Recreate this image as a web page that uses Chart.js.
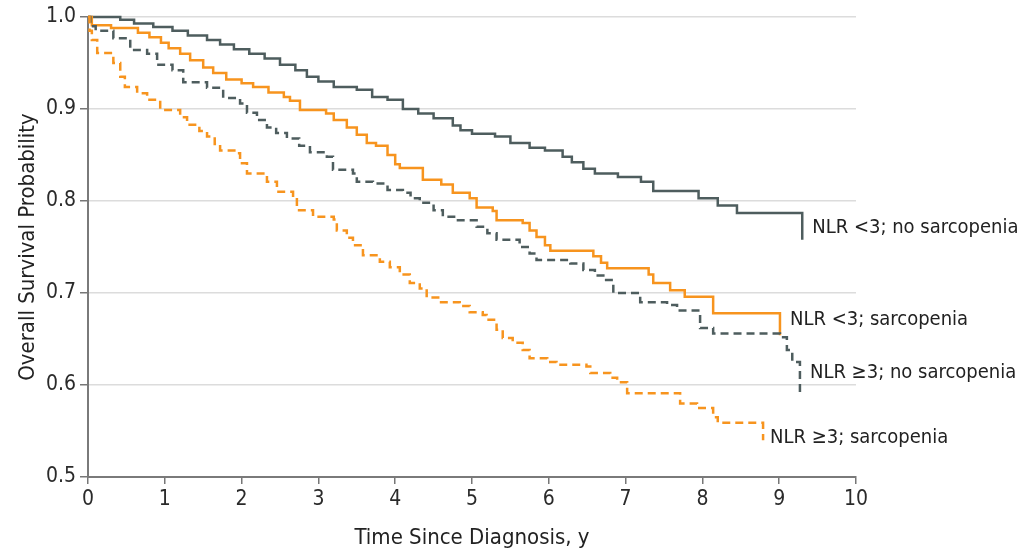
<!DOCTYPE html>
<html>
<head>
<meta charset="utf-8">
<script src="https://cdn.jsdelivr.net/npm/chart.js@4/dist/chart.umd.min.js"></script>
<style>
  html, body { margin: 0; padding: 0; background: #fff; }
  #wrap { width: 1019px; height: 551px; }
</style>
</head>
<body>
<div id="wrap"><canvas id="kmChart" width="1019" height="551"></canvas></div>
<script>
// Kaplan-Meier estimates (time in years, survival probability)
const lowNoSarcTime = [0, 0.42, 0.6, 0.85, 1.1, 1.3, 1.55, 1.72, 1.9, 2.1, 2.3, 2.5, 2.7, 2.85, 3.0, 3.2, 3.5, 3.7, 3.9, 4.1, 4.3, 4.5, 4.75, 4.85, 5.0, 5.3, 5.5, 5.75, 5.95, 6.18, 6.3, 6.45, 6.6, 6.9, 7.2, 7.36, 7.95, 8.2, 8.45, 9.3, 9.3];
const lowNoSarcSurv = [1.0, 0.997, 0.993, 0.989, 0.985, 0.98, 0.975, 0.97, 0.965, 0.96, 0.955, 0.948, 0.942, 0.935, 0.93, 0.924, 0.921, 0.913, 0.91, 0.9, 0.895, 0.89, 0.882, 0.877, 0.873, 0.87, 0.863, 0.858, 0.855, 0.848, 0.842, 0.835, 0.83, 0.826, 0.821, 0.811, 0.803, 0.795, 0.787, 0.787, 0.758];

const lowSarcTime = [0, 0.05, 0.3, 0.65, 0.8, 0.95, 1.05, 1.2, 1.33, 1.5, 1.63, 1.8, 2.0, 2.15, 2.35, 2.55, 2.63, 2.76, 3.1, 3.2, 3.37, 3.5, 3.63, 3.75, 3.9, 4.0, 4.06, 4.36, 4.6, 4.75, 4.97, 5.06, 5.27, 5.32, 5.66, 5.75, 5.84, 5.95, 6.02, 6.58, 6.68, 6.76, 7.3, 7.36, 7.58, 7.77, 8.14, 9.01, 9.01];
const lowSarcSurv = [1.0, 0.991, 0.988, 0.983, 0.978, 0.972, 0.966, 0.96, 0.953, 0.945, 0.939, 0.932, 0.928, 0.924, 0.918, 0.913, 0.909, 0.899, 0.895, 0.888, 0.88, 0.872, 0.863, 0.86, 0.85, 0.84, 0.836, 0.823, 0.818, 0.809, 0.803, 0.793, 0.789, 0.779, 0.776, 0.768, 0.761, 0.752, 0.746, 0.74, 0.733, 0.727, 0.72, 0.711, 0.703, 0.696, 0.678, 0.678, 0.654];

const highNoSarcTime = [0, 0.03, 0.1, 0.33, 0.55, 0.77, 0.9, 1.1, 1.24, 1.55, 1.76, 1.98, 2.07, 2.2, 2.33, 2.45, 2.59, 2.75, 2.89, 3.11, 3.19, 3.45, 3.5, 3.71, 3.9, 4.1, 4.2, 4.32, 4.5, 4.62, 4.8, 5.06, 5.2, 5.32, 5.62, 5.75, 5.84, 6.28, 6.45, 6.6, 6.71, 6.84, 7.19, 7.54, 7.67, 7.97, 8.14, 9.01, 9.1, 9.17, 9.27, 9.27];
const highNoSarcSurv = [1.0, 0.99, 0.985, 0.977, 0.964, 0.96, 0.948, 0.942, 0.929, 0.923, 0.912, 0.906, 0.896, 0.888, 0.88, 0.874, 0.868, 0.86, 0.853, 0.848, 0.834, 0.83, 0.821, 0.819, 0.812, 0.809, 0.803, 0.798, 0.79, 0.783, 0.779, 0.772, 0.765, 0.758, 0.75, 0.743, 0.736, 0.732, 0.725, 0.719, 0.714, 0.7, 0.69, 0.687, 0.681, 0.662, 0.656, 0.652, 0.638, 0.625, 0.622, 0.59];

const highSarcTime = [0, 0.02, 0.05, 0.12, 0.33, 0.42, 0.48, 0.64, 0.77, 0.94, 1.2, 1.29, 1.45, 1.55, 1.65, 1.72, 1.94, 1.98, 2.07, 2.33, 2.46, 2.67, 2.72, 2.93, 3.2, 3.24, 3.37, 3.45, 3.58, 3.8, 3.93, 4.06, 4.19, 4.32, 4.41, 4.56, 4.84, 4.97, 5.14, 5.19, 5.32, 5.4, 5.53, 5.66, 5.75, 5.98, 6.1, 6.49, 6.54, 6.8, 6.89, 7.02, 7.71, 7.93, 8.14, 8.2, 8.79, 8.79];
const highSarcSurv = [1.0, 0.985, 0.975, 0.961, 0.95, 0.935, 0.924, 0.917, 0.91, 0.899, 0.891, 0.883, 0.876, 0.87, 0.862, 0.855, 0.852, 0.841, 0.83, 0.821, 0.81, 0.804, 0.79, 0.783, 0.78, 0.768, 0.76, 0.752, 0.741, 0.734, 0.728, 0.72, 0.711, 0.705, 0.695, 0.69, 0.686, 0.679, 0.676, 0.671, 0.66, 0.651, 0.646, 0.638, 0.629, 0.625, 0.622, 0.62, 0.613, 0.608, 0.603, 0.591, 0.58, 0.575, 0.565, 0.559, 0.559, 0.54];

const seriesNames = ['NLR <3; no sarcopenia', 'NLR <3; sarcopenia', 'NLR \u22653; no sarcopenia', 'NLR \u22653; sarcopenia'];
// where each curve label sits, in data units (time, probability)
const labelTime = [9.43, 9.14, 9.4, 8.88];
const labelSurv = [0.771, 0.671, 0.613, 0.543];

const xTicks = [0, 1, 2, 3, 4, 5, 6, 7, 8, 9, 10];
const yTicks = [0.5, 0.6, 0.7, 0.8, 0.9, 1.0];

const SLATE = '#4e5d5e';
const ORANGE = '#f7941e';
const FONT = '"DejaVu Sans Condensed", "Liberation Sans Narrow", sans-serif';

function toPoints(times, surv) {
    return times.map((t, i) => ({ x: t, y: surv[i] }));
}

const curveLabels = {
    id: 'curveLabels',
    afterDatasetsDraw(chart) {
        const ctx = chart.ctx;
        const xs = chart.scales.x;
        const ys = chart.scales.y;
        ctx.save();
        ctx.font = '20px ' + FONT;
        ctx.fillStyle = '#222';
        ctx.textAlign = 'left';
        ctx.textBaseline = 'middle';
        seriesNames.forEach((name, i) => {
            ctx.fillText(name, xs.getPixelForValue(labelTime[i]), ys.getPixelForValue(labelSurv[i]));
        });
        ctx.restore();
    }
};

const ctx = document.getElementById('kmChart').getContext('2d');
new Chart(ctx, {
    type: 'line',
    data: {
        datasets: [
            {
                label: seriesNames[3],
                data: toPoints(highSarcTime, highSarcSurv),
                borderColor: ORANGE,
                borderDash: [8, 5],
                borderWidth: 2.5
            },
            {
                label: seriesNames[2],
                data: toPoints(highNoSarcTime, highNoSarcSurv),
                borderColor: SLATE,
                borderDash: [8, 5],
                borderWidth: 2.5
            },
            {
                label: seriesNames[1],
                data: toPoints(lowSarcTime, lowSarcSurv),
                borderColor: ORANGE,
                borderWidth: 2.5
            },
            {
                label: seriesNames[0],
                data: toPoints(lowNoSarcTime, lowNoSarcSurv),
                borderColor: SLATE,
                borderWidth: 2.5
            }
        ]
    },
    options: {
        responsive: false,
        animation: false,
        devicePixelRatio: 1,
        clip: false,
        elements: {
            line: { stepped: 'before', fill: false, tension: 0 },
            point: { radius: 0, hoverRadius: 0 }
        },
        layout: { padding: { left: 0, right: 163, top: 17, bottom: 0 } },
        plugins: {
            legend: { display: false },
            tooltip: { enabled: false }
        },
        scales: {
            x: {
                type: 'linear',
                min: 0,
                max: 10,
                afterBuildTicks: scale => { scale.ticks = xTicks.map(v => ({ value: v })); },
                afterFit: scale => { scale.height = 74; },
                grid: { drawOnChartArea: false, drawTicks: true, tickLength: 7, color: '#777', lineWidth: 1.5 },
                border: { color: '#7a7a7a', width: 2 },
                ticks: { color: '#2a2a2a', padding: 3, font: { family: FONT, size: 21 } },
                title: {
                    display: true,
                    text: 'Time Since Diagnosis, y',
                    color: '#222',
                    font: { family: FONT, size: 22 },
                    padding: { top: 0, bottom: 0 }
                }
            },
            y: {
                type: 'linear',
                min: 0.5,
                max: 1.0,
                afterBuildTicks: scale => { scale.ticks = yTicks.map(v => ({ value: v })); },
                afterFit: scale => { scale.width = 88; },
                grid: {
                    color: '#dcdcdc',
                    lineWidth: 1.5,
                    drawTicks: true,
                    tickLength: 8,
                    tickColor: '#777'
                },
                border: { color: '#7a7a7a', width: 2 },
                ticks: {
                    color: '#2a2a2a',
                    padding: 4,
                    font: { family: FONT, size: 21 },
                    callback: v => v.toFixed(1)
                },
                title: {
                    display: true,
                    text: 'Overall Survival Probability',
                    color: '#222',
                    font: { family: FONT, size: 22 },
                    padding: { top: 15, bottom: 0 }
                }
            }
        }
    },
    plugins: [curveLabels]
});
</script>
</body>
</html>
